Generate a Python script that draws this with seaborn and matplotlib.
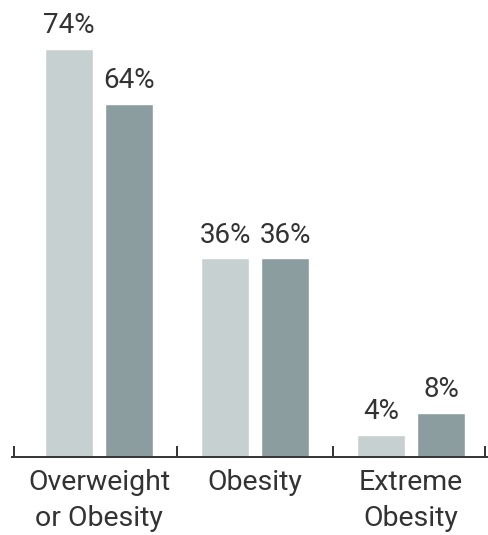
import matplotlib
matplotlib.use("Agg")
import matplotlib.pyplot as plt
import seaborn as sns
import pandas as pd

categories = ["Overweight\nor Obesity", "Obesity", "Extreme\nObesity"]
series_names = ["A", "B"]
series_a = [74, 36, 4]
series_b = [64, 36, 8]

df = pd.DataFrame({
    "category": categories * 2,
    "series": [series_names[0]] * 3 + [series_names[1]] * 3,
    "value": series_a + series_b,
})

sns.set_theme(style="white")
plt.rcParams["font.family"] = ["Roboto", "DejaVu Sans"]

fig = plt.figure(figsize=(4.89, 5.35), dpi=100)
ax = fig.add_axes([12 / 489, 78 / 535, 475 / 489, 457 / 535])

palette = {"A": "#c6d0d1", "B": "#8b9d9e"}
sns.barplot(data=df, x="category", y="value", hue="series", order=categories,
            hue_order=series_names, palette=palette, width=0.77, gap=0.2,
            saturation=1, legend=False, ax=ax)

for cont in ax.containers:
    ax.bar_label(cont, fmt="%g%%", padding=7, fontsize=20, color="#333333")

ax.set_xlim(-0.558, 2.487)
ax.set_ylim(0, 82.8)
ax.set_xlabel("")
ax.set_ylabel("")
ax.set_yticks([])

for s in ["top", "right", "left"]:
    ax.spines[s].set_visible(False)
ax.spines["bottom"].set_color("#333333")
ax.spines["bottom"].set_linewidth(1.4)

ax.set_xticks([-0.545, 0.5, 1.5, 2.475])
ax.set_xticklabels([])
ax.tick_params(axis="x", which="major", direction="in", length=8, width=1.4,
               color="#333333", bottom=True)
ax.set_xticks([0, 1, 2], minor=True)
ax.set_xticklabels(categories, minor=True, fontsize=20.5, color="#333333",
                   linespacing=1.4)
ax.tick_params(axis="x", which="minor", length=0, pad=9)

fig.savefig("out.png", dpi=100)
